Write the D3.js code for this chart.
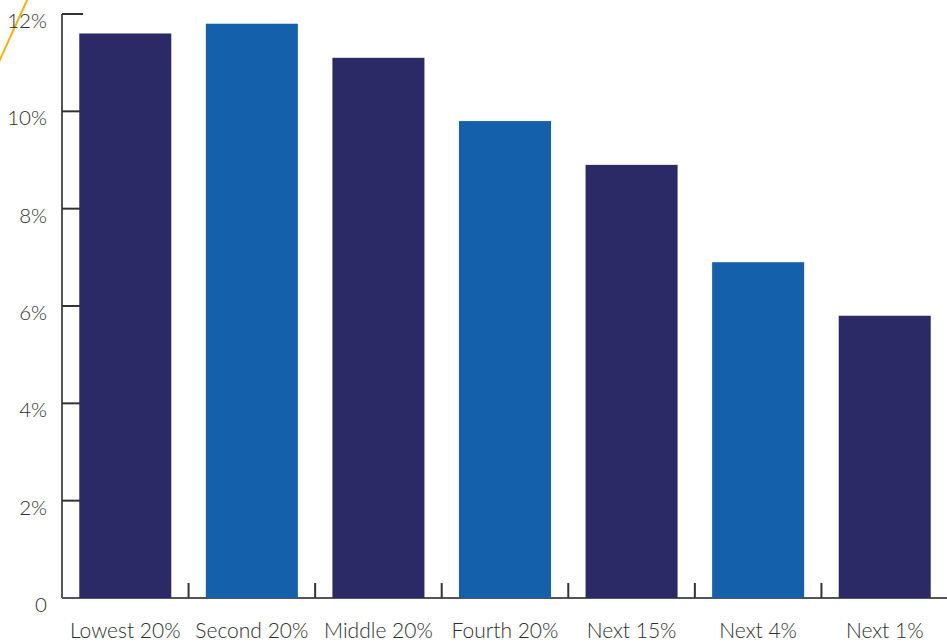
<!DOCTYPE html>
<html>
<head>
<meta charset="utf-8">
<script src="https://cdn.jsdelivr.net/npm/d3@7/dist/d3.min.js"></script>
<style>
  html, body { margin: 0; padding: 0; background: #fff; }
  svg { display: block; }
  text { font-family: Lato, "Open Sans", sans-serif; font-weight: 300; fill: #2e2e2e; }
</style>
</head>
<body>
<svg id="chart" width="947" height="643"></svg>
<script>
// Income groups and their shares (percent)
const categories = ["Lowest 20%", "Second 20%", "Middle 20%", "Fourth 20%", "Next 15%", "Next 4%", "Next 1%"];
const values = [11.6, 11.8, 11.1, 9.8, 8.9, 6.9, 5.8];
const yTicks = [0, 2, 4, 6, 8, 10, 12];
const yTickLabels = ["0", "2%", "4%", "6%", "8%", "10%", "12%"];

const colors = ["#2b2966", "#1460ab"];

const svg = d3.select("#chart");
const margin = { left: 62, right: 0, top: 14, bottom: 45 };
const width = 947, height = 643;
const plotBottom = height - margin.bottom; // 598

const x = d3.scaleBand()
  .domain(categories)
  .range([margin.left, 948])
  .paddingInner(0.273)
  .paddingOuter(0.1365);

const y = d3.scaleLinear()
  .domain([0, 12])
  .range([plotBottom, margin.top]);

// Decorative accent stroke in the corner
svg.append("line")
  .attr("x1", -2).attr("y1", 64)
  .attr("x2", 28).attr("y2", -2)
  .attr("stroke", "#f5b400")
  .attr("stroke-width", 2);

// Y axis: ticks point inward, labels to the left
const yAxis = svg.append("g");
yAxis.append("line")
  .attr("x1", margin.left).attr("x2", margin.left)
  .attr("y1", y(12)).attr("y2", plotBottom)
  .attr("stroke", "#555").attr("stroke-width", 2);
yAxis.selectAll("line.tick")
  .data(yTicks.filter(d => d > 0))
  .join("line")
  .attr("class", "tick")
  .attr("x1", margin.left).attr("x2", margin.left + 21)
  .attr("y1", d => y(d)).attr("y2", d => y(d))
  .attr("stroke", "#333").attr("stroke-width", 2);
yAxis.selectAll("text")
  .data(yTicks)
  .join("text")
  .attr("x", 47)
  .attr("y", d => y(d) + 9)
  .attr("text-anchor", "end")
  .attr("dominant-baseline", "middle")
  .attr("font-size", 20.5)
  .text((d, i) => yTickLabels[i]);

// X axis: baseline and upward ticks between bands
const xAxis = svg.append("g");
xAxis.append("line")
  .attr("x1", margin.left).attr("x2", width)
  .attr("y1", plotBottom).attr("y2", plotBottom)
  .attr("stroke", "#555").attr("stroke-width", 2);
xAxis.selectAll("line.tick")
  .data(categories.slice(1))
  .join("line")
  .attr("class", "tick")
  .attr("x1", d => x(d) - x.step() * x.paddingInner() / 2)
  .attr("x2", d => x(d) - x.step() * x.paddingInner() / 2)
  .attr("y1", plotBottom).attr("y2", plotBottom - 15)
  .attr("stroke", "#333").attr("stroke-width", 2);
xAxis.selectAll("text")
  .data(categories)
  .join("text")
  .attr("x", d => x(d) + x.bandwidth() / 2)
  .attr("y", 638)
  .attr("text-anchor", "middle")
  .attr("font-size", 21)
  .text(d => d);

// Bars
svg.append("g")
  .selectAll("rect")
  .data(values)
  .join("rect")
  .attr("x", (d, i) => x(categories[i]))
  .attr("width", x.bandwidth())
  .attr("y", d => y(d))
  .attr("height", d => plotBottom - y(d))
  .attr("fill", (d, i) => colors[i % 2]);
</script>
</body>
</html>
